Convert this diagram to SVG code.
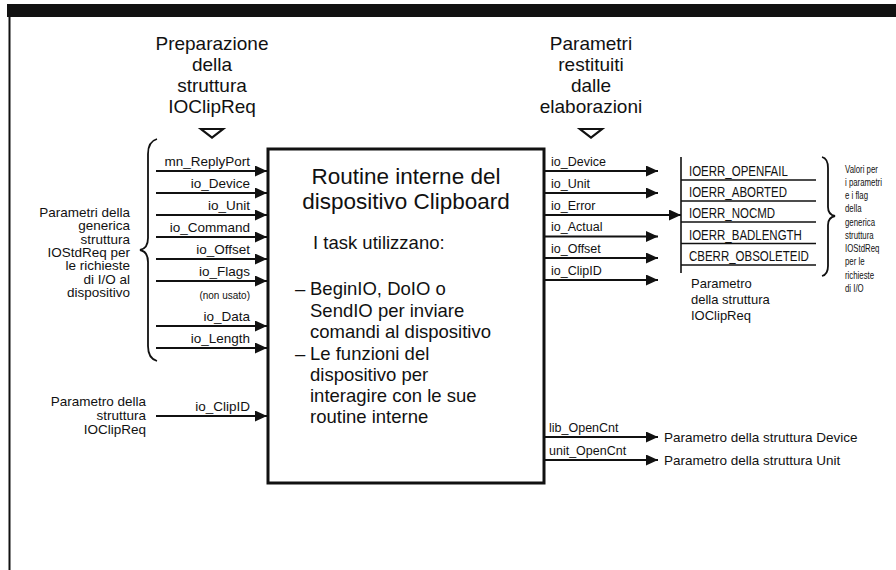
<svg xmlns="http://www.w3.org/2000/svg" width="896" height="570" viewBox="0 0 896 570">
<style>
text{font-family:"Liberation Sans",Arial,sans-serif;fill:#111}
.h{font-size:19px;text-anchor:middle}
.lab{font-size:13.5px;text-anchor:end}
.rl{font-size:12.5px}
.side{font-size:12.5px;text-anchor:end}
.tb{font-size:14px}
.tiny{font-size:10px}
.cn{font-size:11.5px}
.title{font-size:22.5px;text-anchor:middle}
.body{font-size:18.5px}
.conn line{stroke:#111;stroke-width:1.8;fill:none}
.ln{stroke:#111;stroke-width:1.6;fill:none}
.br{stroke:#111;stroke-width:1.8;fill:none}
.tri{stroke:#111;stroke-width:2.2;fill:#fff;stroke-linejoin:miter}
</style>
<defs>
<marker id="ah" markerUnits="userSpaceOnUse" markerWidth="12" markerHeight="11" refX="12" refY="5.5" orient="auto">
<path d="M0,0 L12,5.5 L0,11 z" fill="#111"/>
</marker>
</defs>
<rect width="896" height="570" fill="#fff"/>
<g id="frame">
<rect x="7" y="4" width="889" height="13" fill="#111"/>
<line x1="9.5" y1="17" x2="9.5" y2="570" stroke="#111" stroke-width="2"/>
</g>

<g id="heading-left">
<text class="h" x="212" y="50">Preparazione</text>
<text class="h" x="212" y="71">della</text>
<text class="h" x="212" y="92">struttura</text>
<text class="h" x="212" y="113">IOClipReq</text>
<path class="tri" d="M201,129 L223,129 L212,137.5 Z"/>
</g>

<g id="heading-right">
<text class="h" x="591" y="50">Parametri</text>
<text class="h" x="591" y="71">restituiti</text>
<text class="h" x="591" y="92">dalle</text>
<text class="h" x="591" y="113">elaborazioni</text>
<path class="tri" d="M580,129 L602,129 L591,137.5 Z"/>
</g>

<g id="box">
<rect x="268" y="149" width="276" height="334" fill="#fff" stroke="#111" stroke-width="3"/>
<text class="title" x="406" y="184">Routine interne del</text>
<text class="title" x="406" y="209">dispositivo Clipboard</text>
<text class="body" x="313" y="249">I task utilizzano:</text>
<text class="body" y="295"><tspan x="295">–</tspan><tspan x="310">BeginIO, DoIO o</tspan></text>
<text class="body" x="310" y="316.5">SendIO per inviare</text>
<text class="body" x="310" y="338">comandi al dispositivo</text>
<text class="body" y="359.5"><tspan x="295">–</tspan><tspan x="310">Le funzioni del</tspan></text>
<text class="body" x="310" y="381">dispositivo per</text>
<text class="body" x="310" y="402">interagire con le sue</text>
<text class="body" x="310" y="423">routine interne</text>
</g>

<g id="iostdreq-note">
<path class="br" d="M157,139 C150,141 148,146 148,154 L148,238 C148,245 145,249 140,250 C145,251 148,255 148,262 L148,346 C148,354 150,359 157,361"/>
<g transform="translate(130 0) scale(1.08 1)">
<text class="side" x="0" y="217">Parametri della</text>
<text class="side" x="0" y="230.5">generica</text>
<text class="side" x="0" y="244">struttura</text>
<text class="side" x="0" y="257">IOStdReq per</text>
<text class="side" x="0" y="270.5">le richieste</text>
<text class="side" x="0" y="284">di I/O al</text>
<text class="side" x="0" y="297">dispositivo</text>
</g>
</g>

<g id="clipreq-note">
<g transform="translate(146 0) scale(1.08 1)">
<text class="side" x="0" y="406">Parametro della</text>
<text class="side" x="0" y="420">struttura</text>
<text class="side" x="0" y="434">IOClipReq</text>
</g>
</g>

<g id="input-labels">
<text class="lab" x="250" y="166">mn_ReplyPort</text>
<text class="lab" x="250" y="188">io_Device</text>
<text class="lab" x="250" y="210">io_Unit</text>
<text class="lab" x="250" y="232">io_Command</text>
<text class="lab" x="250" y="254">io_Offset</text>
<text class="lab" x="250" y="276">io_Flags</text>
<text class="tiny" x="250" y="299" text-anchor="end">(non usato)</text>
<text class="lab" x="250" y="321">io_Data</text>
<text class="lab" x="250" y="343">io_Length</text>
<text class="lab" x="250" y="411">io_ClipID</text>
</g>

<g id="output-labels">
<text class="rl" x="551" y="165.5">io_Device</text>
<text class="rl" x="551" y="187.5">io_Unit</text>
<text class="rl" x="551" y="209.5">io_Error</text>
<text class="rl" x="551" y="231">io_Actual</text>
<text class="rl" x="551" y="252.5">io_Offset</text>
<text class="rl" x="551" y="274.5">io_ClipID</text>
<text class="rl" x="549" y="432">lib_OpenCnt</text>
<text class="rl" x="549" y="455">unit_OpenCnt</text>
</g>

<g id="error-table">
<line class="ln" x1="681" y1="157" x2="681" y2="273"/>
<line class="ln" x1="681" y1="180" x2="816" y2="180"/>
<line class="ln" x1="681" y1="201" x2="816" y2="201"/>
<line class="ln" x1="681" y1="222" x2="816" y2="222"/>
<line class="ln" x1="681" y1="243.5" x2="816" y2="243.5"/>
<line class="ln" x1="681" y1="265" x2="816" y2="265"/>
<g transform="translate(689 0) scale(0.82 1)">
<text class="tb" x="0" y="176">IOERR_OPENFAIL</text>
<text class="tb" x="0" y="197">IOERR_ABORTED</text>
<text class="tb" x="0" y="218.5">IOERR_NOCMD</text>
<text class="tb" x="0" y="240">IOERR_BADLENGTH</text>
<text class="tb" x="0" y="261">CBERR_OBSOLETEID</text>
</g>
<text x="691" y="288" style="font-size:13px">Parametro</text>
<text x="691" y="304" style="font-size:13px">della struttura</text>
<text x="691" y="320" style="font-size:13px">IOClipReq</text>
</g>

<g id="error-values-note">
<path class="br" d="M822,157 C826,158 828,162 828,168 L828,207 C828,212 830,215 835,216 C830,217 828,220 828,225 L828,266 C828,271 826,275 822,276"/>
<g transform="translate(845 0) scale(0.68 1)">
<text class="cn" x="0" y="173">Valori per</text>
<text class="cn" x="0" y="186">i parametri</text>
<text class="cn" x="0" y="199.5">e i flag</text>
<text class="cn" x="0" y="212.5">della</text>
<text class="cn" x="0" y="226">generica</text>
<text class="cn" x="0" y="239">struttura</text>
<text class="cn" x="0" y="252">IOStdReq</text>
<text class="cn" x="0" y="265.5">per le</text>
<text class="cn" x="0" y="279">richieste</text>
<text class="cn" x="0" y="292">di I/O</text>
</g>
</g>

<g id="device-param">
<text style="font-size:13.5px" x="664" y="442">Parametro della struttura Device</text>
</g>
<g id="unit-param">
<text style="font-size:13.5px" x="664" y="465">Parametro della struttura Unit</text>
</g>

<g id="connectors" class="conn">
<line x1="156" y1="171" x2="267" y2="171" marker-end="url(#ah)"/>
<line x1="156" y1="193" x2="267" y2="193" marker-end="url(#ah)"/>
<line x1="156" y1="215" x2="267" y2="215" marker-end="url(#ah)"/>
<line x1="156" y1="237" x2="267" y2="237" marker-end="url(#ah)"/>
<line x1="156" y1="259" x2="267" y2="259" marker-end="url(#ah)"/>
<line x1="156" y1="281" x2="267" y2="281" marker-end="url(#ah)"/>
<line x1="156" y1="326" x2="267" y2="326" marker-end="url(#ah)"/>
<line x1="156" y1="348" x2="267" y2="348" marker-end="url(#ah)"/>
<line x1="156" y1="416" x2="267" y2="416" marker-end="url(#ah)"/>
<line x1="545" y1="171" x2="658" y2="171" marker-end="url(#ah)"/>
<line x1="545" y1="193" x2="658" y2="193" marker-end="url(#ah)"/>
<line x1="545" y1="215" x2="681" y2="215" marker-end="url(#ah)"/>
<line x1="545" y1="236.5" x2="658" y2="236.5" marker-end="url(#ah)"/>
<line x1="545" y1="258" x2="658" y2="258" marker-end="url(#ah)"/>
<line x1="545" y1="280" x2="658" y2="280" marker-end="url(#ah)"/>
<line x1="545" y1="437" x2="658" y2="437" marker-end="url(#ah)"/>
<line x1="545" y1="460" x2="658" y2="460" marker-end="url(#ah)"/>
</g>
</svg>
